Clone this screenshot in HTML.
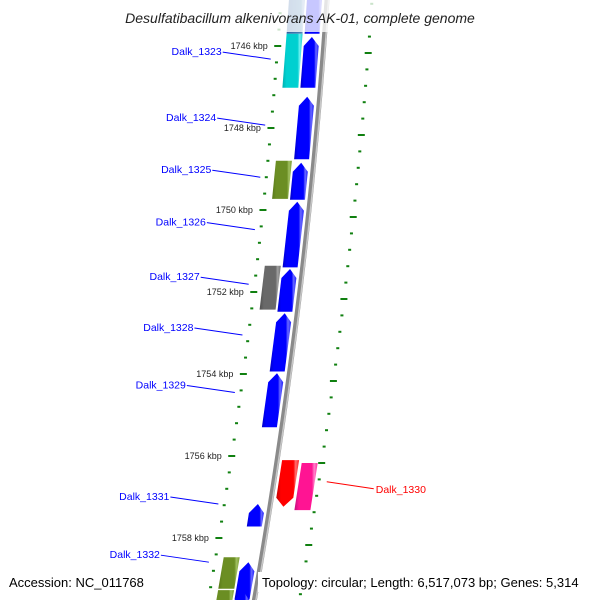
<!DOCTYPE html>
<html><head><meta charset="utf-8">
<style>
html,body{margin:0;padding:0;background:#fff;}
svg{display:block;font-family:"Liberation Sans","DejaVu Sans",sans-serif;}
</style></head>
<body>
<svg id="map" width="600" height="600" viewBox="0 0 600 600" xmlns="http://www.w3.org/2000/svg">
<defs>
<linearGradient id="gBlue" x1="0" x2="1"><stop offset="0" stop-color="#0000c8"/><stop offset="0.2" stop-color="#0000ff"/><stop offset="0.75" stop-color="#0000ff"/><stop offset="0.85" stop-color="#6a6aff"/><stop offset="1" stop-color="#2020ff"/></linearGradient>
<linearGradient id="gCyan" x1="0" x2="1"><stop offset="0" stop-color="#00b0b0"/><stop offset="0.2" stop-color="#00d0d0"/><stop offset="0.75" stop-color="#00d0d0"/><stop offset="0.85" stop-color="#70f0f0"/><stop offset="1" stop-color="#20d0d0"/></linearGradient>
<linearGradient id="gOlive" x1="0" x2="1"><stop offset="0" stop-color="#5a7a1a"/><stop offset="0.2" stop-color="#6b8e23"/><stop offset="0.75" stop-color="#6b8e23"/><stop offset="0.85" stop-color="#a0c060"/><stop offset="1" stop-color="#7a9a30"/></linearGradient>
<linearGradient id="gGray" x1="0" x2="1"><stop offset="0" stop-color="#505050"/><stop offset="0.2" stop-color="#696969"/><stop offset="0.75" stop-color="#696969"/><stop offset="0.85" stop-color="#a0a0a0"/><stop offset="1" stop-color="#707070"/></linearGradient>
<linearGradient id="gSteel" x1="0" x2="1"><stop offset="0" stop-color="#3060a0"/><stop offset="0.75" stop-color="#4682b4"/><stop offset="0.85" stop-color="#90b0d8"/><stop offset="1" stop-color="#4682b4"/></linearGradient>
<linearGradient id="gRed" x1="0" x2="1"><stop offset="0" stop-color="#c00000"/><stop offset="0.2" stop-color="#ff0000"/><stop offset="0.75" stop-color="#ff0000"/><stop offset="0.85" stop-color="#ff7070"/><stop offset="1" stop-color="#ff2020"/></linearGradient>
<linearGradient id="gPink" x1="0" x2="1"><stop offset="0" stop-color="#c01080"/><stop offset="0.2" stop-color="#ff1493"/><stop offset="0.75" stop-color="#ff1493"/><stop offset="0.85" stop-color="#ff80c8"/><stop offset="1" stop-color="#ff30a0"/></linearGradient>
<linearGradient id="gBack" x1="0" x2="1"><stop offset="0" stop-color="#b0b0b0"/><stop offset="0.5" stop-color="#808080"/><stop offset="1" stop-color="#c8c8c8"/></linearGradient>
</defs>
<g id="ticks"></g>
<g id="backbone"></g>
<g id="genes"></g>
<g id="labels"></g>
<rect x="0" y="0" width="600" height="32" fill="#fff" opacity="0.78"/>
<text x="300" y="23" text-anchor="middle" font-size="14" font-style="italic" fill="#222">Desulfatibacillum alkenivorans AK-01, complete genome</text>
<rect x="6" y="572" width="150" height="20" fill="#fff"/>
<text x="9" y="587" font-size="13" fill="#000">Accession: NC_011768</text>
<rect x="258" y="572" width="342" height="20" fill="#fff"/>
<text x="262" y="587" font-size="13" fill="#000">Topology: circular; Length: 6,517,073 bp; Genes: 5,314</text>
</svg>
<script>
// data
const geneNames = ["top-a","top-b","Dalk_1323","Dalk_1323b","Dalk_1324","Dalk_1325","Dalk_1325b","Dalk_1326","Dalk_1327","Dalk_1327b","Dalk_1328","Dalk_1329","Dalk_1330","Dalk_1330b","Dalk_1331","Dalk_1332","Dalk_1332b","bottom-a","bottom-b"];
const geneStart = [1744.5,1744.5,1745.70,1745.78,1747.24,1748.80,1748.85,1749.80,1751.36,1751.44,1752.52,1753.98,1756.10,1756.17,1757.17,1758.47,1758.59,1759.27,1759.30];
const geneEnd   = [1745.70,1745.70,1747.02,1747.02,1748.76,1749.73,1749.75,1751.40,1752.43,1752.48,1753.94,1755.30,1757.24,1757.32,1757.72,1759.24,1759.50,1760.0,1760.0];
const geneStrand= [1,1,1,1,1,1,1,1,1,1,1,1,-1,-1,1,1,1,1,1];
const geneRing  = [1,2,2,1,1,2,1,1,2,1,1,1,3,4,1,2,1,2,1];
const geneColor = ["gBlue","gSteel","gCyan","gBlue","gBlue","gOlive","gBlue","gBlue","gGray","gBlue","gBlue","gBlue","gRed","gPink","gBlue","gOlive","gBlue","gOlive","gBlue"];
const geneArrow = [0,0,0,1,1,0,1,1,0,1,1,1,1,0,1,0,1,0,1];
const tickValues = [1746,1748,1750,1752,1754,1756,1758];
const tickLabels = ["1746 kbp","1748 kbp","1750 kbp","1752 kbp","1754 kbp","1756 kbp","1758 kbp"];
const labelNames = ["Dalk_1323","Dalk_1324","Dalk_1325","Dalk_1326","Dalk_1327","Dalk_1328","Dalk_1329","Dalk_1331","Dalk_1332","Dalk_1330"];
const labelKbp   = [1746.32,1747.93,1749.20,1750.48,1751.81,1753.05,1754.45,1757.17,1758.59,1756.8];
const labelSide  = [-1,-1,-1,-1,-1,-1,-1,-1,-1,1];

// axis functions
const NS="http://www.w3.org/2000/svg";
function yOf(k){return 46+(k-1746)*41;}
function bb(y){return 327-0.067*y-0.00009*y*y;}
const ringOff={1:[-20,-5],2:[-38,-22],3:[5,22],4:[25,41]};
function mk(tag,attrs,parent){const e=document.createElementNS(NS,tag);for(const k in attrs)e.setAttribute(k,attrs[k]);parent.appendChild(e);return e;}

// backbone
const gb=document.getElementById('backbone');
let pts=[];for(let y=-5;y<=605;y+=5)pts.push((bb(y))+','+y);
const bl=mk('polyline',{points:pts.join(' '),fill:'none',stroke:'#8a8a8a','stroke-width':5},gb);


let pts2=[];for(let y=-5;y<=605;y+=5)pts2.push((bb(y)+1.5)+','+y);
mk('polyline',{points:pts2.join(' '),fill:'none',stroke:'#c8c8c8','stroke-width':1.5},gb);

// ticks
const gt=document.getElementById('ticks');
for(let k=1744.8;k<=1760.2;k+=0.4){
  const kk=Math.round(k*10)/10;
  const y=yOf(kk);
  const major=Math.abs(kk/2-Math.round(kk/2))<0.01;
  const xi=bb(y)-46, xo=bb(y+7)+45;
  const w=major?7:3;
  const t1=mk('rect',{x:xi-w/2,y:y-1,width:w,height:2,fill:'#108010'},gt);
  
  
  const t2=mk('rect',{x:xo-w/2,y:y+6,width:w,height:2,fill:'#108010'},gt);
  
  
}
tickValues.forEach((v,i)=>{
  const y=yOf(v);
  const t=mk('text',{x:bb(y)-56,y:y+3,'text-anchor':'end','font-size':9,fill:'#222'},gt);
  t.textContent=tickLabels[i];
  
  
});

// genes
const gg=document.getElementById('genes');
geneNames.forEach((n,i)=>{
  const y1=yOf(geneStart[i]), y2=yOf(geneEnd[i]);
  const [a,b]=ringOff[geneRing[i]];
  const ah=geneArrow[i]?9:0;
  let p;
  if(geneStrand[i]>0){
    const yt=y1+ah;
    p=[[bb(yt)+a,yt],[ (bb(y1)+ (a+b)/2),y1],[bb(yt)+b,yt],[bb(y2)+b,y2],[bb(y2)+a,y2]];
  }else{
    const yb=y2-ah;
    p=[[bb(y1)+a,y1],[bb(y1)+b,y1],[bb(yb)+b,yb],[bb(y2)+(a+b)/2,y2],[bb(yb)+a,yb]];
  }
  const e=mk('polygon',{points:p.map(q=>q[0].toFixed(1)+','+q[1].toFixed(1)).join(' '),fill:'url(#'+geneColor[i]+')'},gg);
  
  
});

// labels
const gl=document.getElementById('labels');
labelNames.forEach((n,i)=>{
  const y=yOf(labelKbp[i]);
  if(labelSide[i]<0){
    const x2=bb(y)-52;
    const x1=x2-48;
    mk('line',{x1:x1,y1:y-7,x2:x2,y2:y,stroke:'#0000ff','stroke-width':1},gl);
    const t=mk('text',{x:x1-1,y:y-4,'text-anchor':'end','font-size':10.5,fill:'#0000ff'},gl);
    t.textContent=n;
    
    
  }else{
    const x1=bb(y)+54;
    mk('line',{x1:x1,y1:y-7,x2:x1+47,y2:y,stroke:'#ff0000','stroke-width':1},gl);
    const t=mk('text',{x:x1+49,y:y+4,'font-size':10.5,fill:'#ff0000'},gl);
    t.textContent=n;
    
    
  }
});
</script>
</body></html>
